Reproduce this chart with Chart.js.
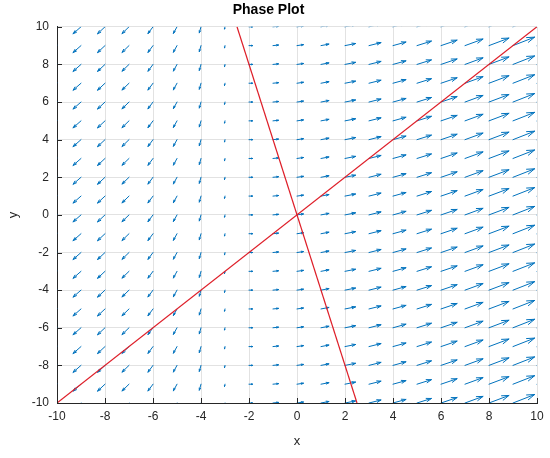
<!DOCTYPE html>
<html>
<head>
<meta charset="utf-8">
<script src="https://cdn.jsdelivr.net/npm/chart.js@4/dist/chart.umd.min.js"></script>
<style>
  html, body { margin: 0; padding: 0; background: #ffffff; }
  #wrap { width: 550px; height: 458px; position: relative; }
</style>
</head>
<body>
<div id="wrap"><canvas id="c" width="550" height="458"></canvas></div>
<script>
// ---- data ----
const titleText = 'Phase Plot';
const xLabel = 'x';
const yLabel = 'y';
const xGrid = [-10, -9, -8, -7, -6, -5, -4, -3, -2, -1, 0, 1, 2, 3, 4, 5, 6, 7, 8, 9, 10];
const yGrid = [-10, -9, -8, -7, -6, -5, -4, -3, -2, -1, 0, 1, 2, 3, 4, 5, 6, 7, 8, 9, 10];
// arrow components (data units) for each column x in xGrid; rows look identical
const uByColumn = [-0.34, -0.33, -0.31, -0.29, -0.21, -0.15, -0.07, -0.02, 0.15, 0.23, 0.27, 0.33, 0.44, 0.50, 0.54, 0.60, 0.67, 0.75, 0.83, 0.90, 0.97];
const vByColumn = [-0.38, -0.37, -0.37, -0.36, -0.36, -0.35, -0.32, -0.12, 0.00, 0.03, 0.05, 0.08, 0.11, 0.16, 0.19, 0.24, 0.29, 0.35, 0.40, 0.45, 0.50];
// red lines
const lineAX = [-10, 10];
const lineAY = [-10, 10];
const lineBX = [-2.5, 2.5];
const lineBY = [10, -10];
const tickValues = [-10, -8, -6, -4, -2, 0, 2, 4, 6, 8, 10];

// ---- build datasets ----
const quiverData = [];
yGrid.forEach(function (y) {
  xGrid.forEach(function (x, i) {
    quiverData.push({ x: x, y: y, u: uByColumn[i], v: vByColumn[i] });
  });
});
const lineA = lineAX.map(function (x, i) { return { x: x, y: lineAY[i] }; });
const lineB = lineBX.map(function (x, i) { return { x: x, y: lineBY[i] }; });

const ARROW = 'rgb(0,114,189)';
const AXIS = 'rgb(38,38,38)';
const GRID = 'rgb(226,226,226)';
const FONT = "'Liberation Sans', Arial, Helvetica, sans-serif";

const quiverPlugin = {
  id: 'quiver',
  beforeDatasetsDraw(chart) {
    const ctx = chart.ctx;
    const xs = chart.scales.x, ys = chart.scales.y;
    const a = chart.chartArea;
    const ds = chart.data.datasets[0];
    ctx.save();
    ctx.beginPath();
    ctx.rect(a.left, a.top, a.right - a.left, a.bottom - a.top);
    ctx.clip();
    ctx.strokeStyle = ARROW;
    ctx.lineWidth = 1;
    ctx.lineCap = 'round';
    ctx.lineJoin = 'round';
    ds.data.forEach(function (p) {
      const x0 = xs.getPixelForValue(p.x), y0 = ys.getPixelForValue(p.y);
      const x1 = xs.getPixelForValue(p.x + p.u), y1 = ys.getPixelForValue(p.y + p.v);
      const dx = x1 - x0, dy = y1 - y0;
      const L = Math.hypot(dx, dy);
      if (L < 0.3) return;
      const alpha = 0.33, beta = 0.33;
      const h1x = x1 - alpha * (dx + beta * dy), h1y = y1 - alpha * (dy - beta * dx);
      const h2x = x1 - alpha * (dx - beta * dy), h2y = y1 - alpha * (dy + beta * dx);
      ctx.beginPath();
      ctx.moveTo(x0, y0);
      ctx.lineTo(x1, y1);
      ctx.moveTo(h1x, h1y);
      ctx.lineTo(x1, y1);
      ctx.lineTo(h2x, h2y);
      ctx.stroke();
    });
    ctx.restore();
  },
  afterDraw(chart) {
    // inward tick marks (MATLAB style)
    const ctx = chart.ctx;
    const xs = chart.scales.x, ys = chart.scales.y;
    const a = chart.chartArea;
    ctx.save();
    ctx.strokeStyle = AXIS;
    ctx.lineWidth = 1;
    xs.ticks.forEach(function (t) {
      const px = Math.round(xs.getPixelForValue(t.value)) + 0.5;
      ctx.beginPath();
      ctx.moveTo(px, a.bottom);
      ctx.lineTo(px, a.bottom - 5);
      ctx.stroke();
    });
    ys.ticks.forEach(function (t) {
      const py = Math.round(ys.getPixelForValue(t.value)) + 0.5;
      ctx.beginPath();
      ctx.moveTo(a.left, py);
      ctx.lineTo(a.left + 5, py);
      ctx.stroke();
    });
    ctx.restore();
  }
};

new Chart(document.getElementById('c'), {
  type: 'scatter',
  data: {
    datasets: [
      { label: 'field', data: quiverData, pointRadius: 0, showLine: false, borderColor: ARROW, backgroundColor: ARROW },
      { label: 'lineA', type: 'line', data: lineA, borderColor: 'rgb(222,30,40)', borderWidth: 1.2, pointRadius: 0, fill: false, tension: 0 },
      { label: 'lineB', type: 'line', data: lineB, borderColor: 'rgb(222,30,40)', borderWidth: 1.2, pointRadius: 0, fill: false, tension: 0 }
    ]
  },
  options: {
    responsive: false,
    animation: false,
    events: [],
    layout: { padding: { left: 0, right: 13, top: 0, bottom: 0 } },
    plugins: {
      legend: { display: false },
      tooltip: { enabled: false },
      title: {
        display: true, text: titleText, color: '#000000',
        font: { family: FONT, size: 14, weight: 'bold' },
        padding: { top: 2, bottom: 8 }
      }
    },
    scales: {
      x: {
        type: 'linear', min: -10, max: 10,
        afterBuildTicks: function (s) { s.ticks = tickValues.map(function (v) { return { value: v }; }); },
        afterFit: function (s) { s.height = 55; },
        grid: { color: GRID, lineWidth: 1, drawTicks: false },
        border: { color: AXIS, width: 1 },
        ticks: { color: AXIS, font: { family: FONT, size: 12 }, padding: 6, maxRotation: 0, autoSkip: false },
        title: { display: true, text: xLabel, color: AXIS, font: { family: FONT, size: 13 }, padding: { top: 0, bottom: 9 } }
      },
      y: {
        type: 'linear', min: -10, max: 10,
        afterBuildTicks: function (s) { s.ticks = tickValues.map(function (v) { return { value: v }; }); },
        afterFit: function (s) { s.width = 57; },
        grid: { color: GRID, lineWidth: 1, drawTicks: false },
        border: { color: AXIS, width: 1 },
        ticks: { color: AXIS, font: { family: FONT, size: 12 }, padding: 8, autoSkip: false },
        title: { display: true, text: yLabel, color: AXIS, font: { family: FONT, size: 13 }, padding: { top: 6, bottom: 0 } }
      }
    }
  },
  plugins: [quiverPlugin]
});
</script>
</body>
</html>
